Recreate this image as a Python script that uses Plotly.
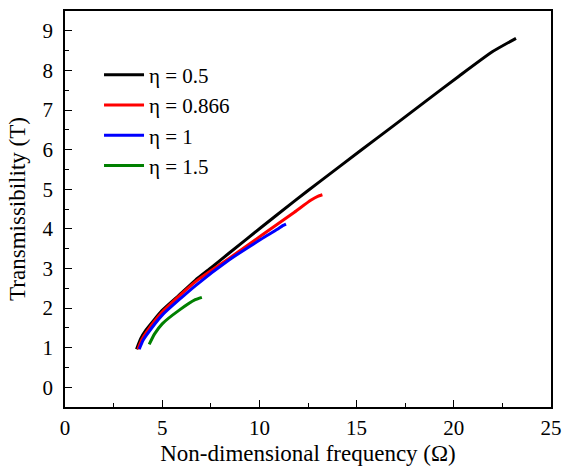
import plotly.graph_objects as go

# Data
omega_05 = [3.68, 3.9, 4.16, 5.0, 5.86, 6.7, 7.55, 8.4, 10.1, 11.8, 13.07, 15.19, 16.89, 18.58, 20.28, 21.98, 23.2]
T_05 = [0.96, 1.23, 1.44, 1.94, 2.32, 2.70, 3.03, 3.37, 4.04, 4.70, 5.18, 5.97, 6.60, 7.23, 7.86, 8.47, 8.81]

omega_0866 = [3.75, 3.95, 4.2, 5.0, 6.7, 8.4, 10.1, 11.8, 12.64, 13.0, 13.24]
T_0866 = [0.96, 1.2, 1.40, 1.90, 2.66, 3.24, 3.83, 4.42, 4.72, 4.82, 4.86]

omega_1 = [3.82, 4.0, 4.2, 5.0, 6.7, 8.4, 10.1, 10.9, 11.2, 11.37]
T_1 = [0.96, 1.17, 1.32, 1.82, 2.56, 3.2, 3.74, 3.98, 4.08, 4.12]

omega_15 = [4.33, 4.6, 5.0, 5.86, 6.7, 7.04]
T_15 = [1.08, 1.34, 1.60, 1.94, 2.21, 2.27]

x_ticks = [0, 5, 10, 15, 20, 25]
y_ticks = [0, 1, 2, 3, 4, 5, 6, 7, 8, 9]

series = [
    ("η = 0.5", omega_05, T_05, "#000000"),
    ("η = 0.866", omega_0866, T_0866, "#ff0000"),
    ("η = 1", omega_1, T_1, "#0000ff"),
    ("η = 1.5", omega_15, T_15, "#008000"),
]

FONT = "Liberation Serif"

fig = go.Figure()
for name, x, y, c in series:
    fig.add_trace(go.Scatter(x=x, y=y, mode="lines", name=name,
                             line=dict(color=c, width=3, shape="spline", smoothing=0.5)))

axis_common = dict(
    showline=True, linecolor="black", linewidth=1.5, mirror=True,
    ticks="inside", ticklen=7, tickwidth=1.2, tickcolor="black",
    showgrid=False, zeroline=False, automargin=False,
    tickfont=dict(family=FONT, size=21, color="black"),
    ticklabeloverflow="allow",
)

fig.update_xaxes(range=[0, 25], tickmode="array", tickvals=x_ticks,
                 minor=dict(ticks="inside", ticklen=4, dtick=2.5, tickcolor="black", tickwidth=1.2),
                 ticklabelstandoff=1,
                 title=dict(text="Non-dimensional frequency (Ω)", font=dict(family=FONT, size=23, color="black"), standoff=6),
                 **axis_common)
fig.update_yaxes(range=[-0.5, 9.5], tickmode="array", tickvals=y_ticks,
                 minor=dict(ticks="inside", ticklen=4, dtick=0.5, tickcolor="black", tickwidth=1.2),
                 ticklabelstandoff=6,
                 title=dict(text="Transmissibility (T)", font=dict(family=FONT, size=23, color="black"), standoff=10),
                 **axis_common)

fig.update_layout(
    width=564, height=467,
    margin=dict(l=65, r=13, t=11, b=60),
    paper_bgcolor="white", plot_bgcolor="white",
    font=dict(family=FONT, color="black"),
    legend=dict(x=0.07, y=0.89, xanchor="left", yanchor="top",
                font=dict(family=FONT, size=21, color="black"),
                bgcolor="rgba(0,0,0,0)", tracegroupgap=0, itemwidth=40),
    showlegend=True,
)

fig.write_html("out.html")
